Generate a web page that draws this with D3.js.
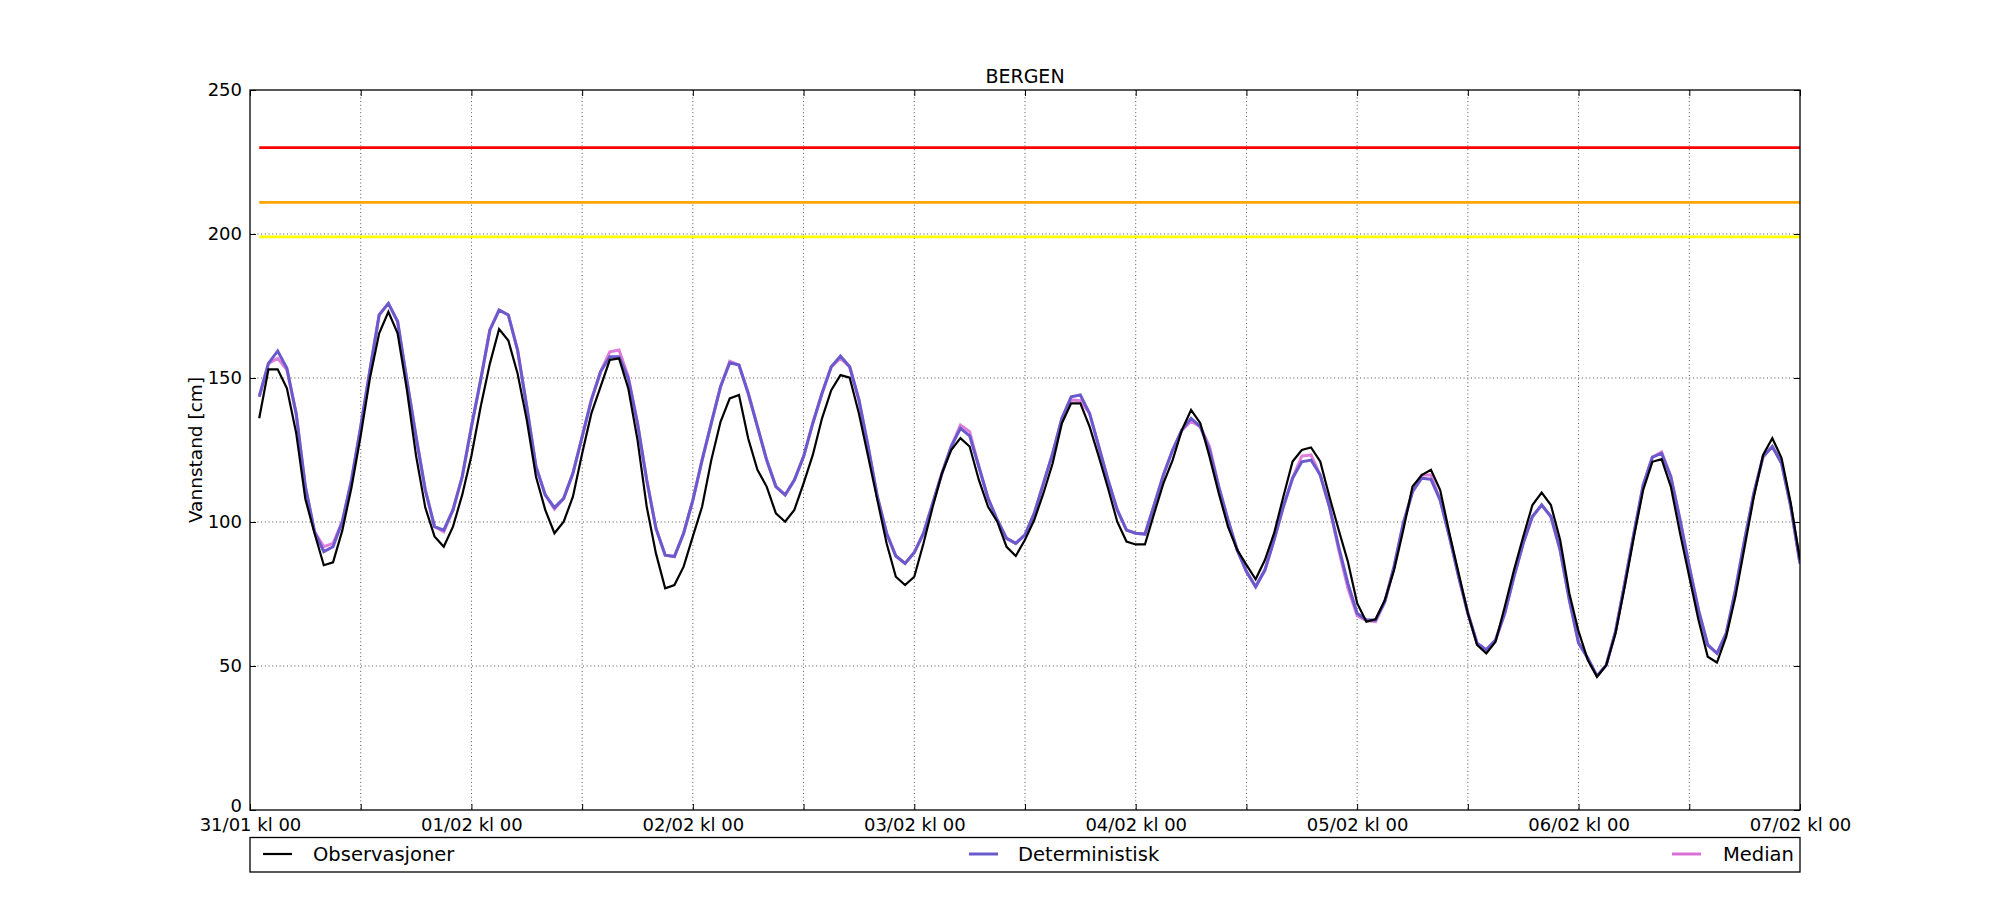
<!DOCTYPE html>
<html>
<head>
<meta charset="utf-8">
<script src="https://cdn.jsdelivr.net/npm/d3@7"></script>
<style>
  html, body { margin: 0; padding: 0; background: #ffffff; }
  svg { display: block; font-family: "DejaVu Sans", sans-serif; }
</style>
</head>
<body>
<svg id="chart" width="2000" height="900"></svg>
<script>
// ---------------- DATA ----------------
const title = "BERGEN";
const yLabel = "Vannstand [cm]";
const startTime = Date.UTC(2016, 0, 31, 0, 0); // 31/01 kl 00
const endTime = Date.UTC(2016, 1, 7, 0, 0);    // 07/02 kl 00
const firstHour = 1; // first sample at 31/01 kl 01

const seriesNames = ["Observasjoner", "Deterministisk", "Median"];

const observasjoner = [
  136, 153, 153, 146.4, 131, 108, 96, 85, 86, 97, 112, 130, 150, 165.5, 173, 165.5, 146, 123, 105, 95, 91.4, 98.4, 109.4, 123,
  140, 155, 167, 163, 151.6, 135.4, 115.7, 104.2, 96.1, 100.1, 108.8, 123.8, 137.7, 147, 156.3, 156.8, 146.4, 128.5, 105.3, 89.1, 77, 78.1, 84.5, 95,
  105.3, 121.5, 134.8, 142.9, 144.1, 129, 118.1, 112.3, 103, 100.1, 104.2, 113.4, 123.3, 136, 145.8, 151, 150.1, 137.7, 122.7, 107.6, 92.6, 81, 78.1, 81,
  92.6, 105.3, 116.9, 125, 129.1, 126.2, 114.6, 105.3, 100.1, 91.4, 88.2, 93.8, 100.7, 110, 120.4, 134.3, 141.2, 141.2, 133.1, 122.7, 111.7, 100.1, 93.2, 92.2,
  92.2, 103, 113.4, 121.5, 131.9, 138.9, 134.3, 122.7, 110, 98.4, 90.3, 85.1, 80.1, 86.8, 96.1, 108.8, 121, 125, 125.9, 121, 108.8, 97.2, 86.2, 71.8,
  65.4, 66.2, 72.9, 83.3, 97.2, 112.3, 116.3, 118.1, 111.1, 96.1, 82.2, 68.3, 57.3, 54.4, 58.4, 70.6, 83.3, 94.9, 105.9, 110.2, 105.9, 93.8, 75.2, 62,
  52.1, 46.3, 50.3, 61.3, 77.5, 94.9, 111.1, 120.9, 121.8, 112.3, 96.1, 81, 66, 53.2, 51.2, 60.2, 74.1, 91.4, 108.8, 123.3, 129.1, 122.2, 106.5, 86.8
];

const deterministisk = [
  143.5, 155.1, 159.4, 153.4, 137.7, 112.3, 96.6, 89.7, 91.4, 100.1, 114.6, 133.1, 152.8, 171.9, 175.9, 169.6, 149.3, 129.6, 111.1, 98.4, 97.2, 104.2, 115.7, 133.1,
  149.3, 166.7, 173.6, 171.9, 159.7, 140, 119.2, 109.4, 105, 108.2, 116.9, 129.6, 142.4, 152.2, 157.4, 157.4, 149.9, 134.3, 114.6, 97.8, 88.5, 88, 96.1, 107.6,
  121.5, 134.3, 147, 155.3, 154.5, 144.7, 133.1, 121.5, 112.3, 109.4, 114.6, 122.7, 134.3, 144.7, 153.9, 157.6, 153.9, 142.4, 126.2, 108.8, 96.1, 88.2, 85.6, 89.4,
  96.1, 106.5, 116.9, 126.2, 132.5, 129.9, 119.2, 108.2, 100.7, 94.3, 92.6, 95.5, 103, 113.4, 123.8, 136, 143.5, 144.1, 137.7, 126.2, 114.6, 104.2, 97.2, 96.1,
  95.8, 105.9, 116.3, 125, 131.9, 136, 133.1, 125, 112.3, 100.7, 90.3, 82.8, 77.5, 83.3, 93.8, 105.3, 115.2, 120.9, 121.5, 116.3, 105.3, 91.4, 78.7, 68.3,
  66, 66, 72.3, 84.5, 99.5, 110.5, 115.2, 114.8, 107.6, 94.9, 81, 68.3, 57.9, 55.6, 59, 68.3, 81, 92.6, 101.9, 105.9, 101.9, 90.3, 72.9, 58,
  52.7, 46.5, 50.3, 61.9, 78.7, 96.1, 112.8, 122.5, 123.8, 115.7, 100.7, 84.5, 69.4, 57.3, 54.4, 61.3, 76.4, 93.8, 110, 122.7, 126.2, 120.4, 105.3, 85.6
];

const median = [
  143.5, 155.1, 156.8, 152.8, 137.7, 112.3, 96.6, 91.4, 92.6, 100.1, 114.6, 133.1, 152.8, 171.9, 175.9, 169.6, 149.3, 129.6, 111.1, 98.4, 96.6, 104.2, 115.7, 133.1,
  149.3, 166.7, 173.6, 171.9, 159.7, 140, 119.2, 109.4, 104.5, 108.2, 116.9, 129.6, 142.4, 152.2, 159.1, 159.7, 150.5, 134.3, 114.6, 97.8, 88.5, 88, 96.1, 107.6,
  121.5, 134.3, 147, 155.8, 154.5, 144.7, 133.1, 121.5, 112.3, 109.4, 114.6, 122.7, 134.3, 144.7, 153.9, 156.8, 153.9, 142.4, 126.2, 108.8, 96.1, 88.2, 85.6, 89.4,
  96.1, 106.5, 116.9, 126.2, 133.7, 131.4, 119.2, 108.2, 100.7, 94.3, 92.6, 95.5, 103, 113.4, 123.8, 136, 142.4, 142.1, 137.7, 126.2, 114.6, 104.2, 97.2, 96.1,
  95.8, 105.9, 116.3, 125, 131.9, 135, 133.1, 126.2, 112.3, 100.7, 90.3, 82.8, 77.5, 83.3, 93.8, 105.3, 115.2, 122.9, 123.3, 116.3, 105.3, 90.3, 77, 67.5,
  65.8, 65.4, 72.3, 84.5, 99.5, 110.5, 116.3, 116.3, 107.6, 94.9, 81, 68.3, 57.9, 55.6, 59, 68.3, 81, 92.6, 101.9, 105.9, 101.9, 90.3, 72.9, 58,
  52.7, 46.5, 50.3, 61.9, 78.7, 96.1, 112.8, 122.5, 124.3, 115.7, 100.7, 84.5, 69.4, 57.3, 54.4, 61.3, 76.4, 93.8, 110, 122.7, 126.2, 120.4, 105.3, 85.6
];

const thresholdValues = [230, 211, 199];
const yTickValues = [0, 50, 100, 150, 200, 250];
const xTickLabels = ["31/01 kl 00", "01/02 kl 00", "02/02 kl 00", "03/02 kl 00", "04/02 kl 00", "05/02 kl 00", "06/02 kl 00", "07/02 kl 00"];

// ---------------- STYLE ----------------
const seriesColors = ["#000000", "#6a5acd", "#da70d6"];
const seriesWidths = [2.2, 3, 3];
const thresholdColors = ["#ff0000", "#ffa500", "#ffff00"];

const W = 2000, H = 900;
const M = { left: 250, right: 1800, top: 90, bottom: 810 };

const svg = d3.select("#chart");
svg.append("rect").attr("width", W).attr("height", H).attr("fill", "#fff");

const HOUR = 3600 * 1000;
const x = d3.scaleTime().domain([new Date(startTime), new Date(endTime)]).range([M.left, M.right]);
const y = d3.scaleLinear().domain([0, 250]).range([M.bottom, M.top]);

const timeOf = i => new Date(startTime + (firstHour + i) * HOUR);

const xTicks = d3.range(0, 15).map(k => new Date(startTime + k * 12 * HOUR));
const labelFor = d => {
  const hrs = Math.round((d - startTime) / HOUR);
  return hrs % 24 === 0 ? xTickLabels[hrs / 24] : "";
};

// Grid
const grid = svg.append("g").attr("class", "grid");
grid.selectAll("line.vx").data(xTicks.slice(1, -1)).enter().append("line")
  .attr("x1", d => x(d)).attr("x2", d => x(d))
  .attr("y1", M.top).attr("y2", M.bottom)
  .attr("stroke", "#000").attr("stroke-width", 0.8).attr("stroke-dasharray", "1,2.7").attr("opacity", 0.85);
grid.selectAll("line.hy").data(yTickValues.slice(1, -1)).enter().append("line")
  .attr("x1", M.left).attr("x2", M.right)
  .attr("y1", d => y(d)).attr("y2", d => y(d))
  .attr("stroke", "#000").attr("stroke-width", 0.8).attr("stroke-dasharray", "1,2.7").attr("opacity", 0.85);

// Clip
svg.append("clipPath").attr("id", "plotclip").append("rect")
  .attr("x", M.left).attr("y", M.top).attr("width", M.right - M.left).attr("height", M.bottom - M.top);
const plot = svg.append("g").attr("clip-path", "url(#plotclip)");

// Threshold lines
const tStart = timeOf(0), tEnd = timeOf(observasjoner.length - 1);
thresholdValues.forEach((v, i) => {
  plot.append("line")
    .attr("x1", x(tStart)).attr("x2", x(tEnd))
    .attr("y1", y(v)).attr("y2", y(v))
    .attr("stroke", thresholdColors[i]).attr("stroke-width", 2.8);
});

// Series
const line = d3.line().x((d, i) => x(timeOf(i))).y(d => y(d));
const seriesData = [observasjoner, deterministisk, median];
[2, 1, 0].forEach(s => {
  plot.append("path")
    .datum(seriesData[s])
    .attr("d", line)
    .attr("fill", "none")
    .attr("stroke", seriesColors[s])
    .attr("stroke-width", seriesWidths[s])
    .attr("stroke-linejoin", "miter")
    .attr("opacity", s === 2 ? 0.9 : 1);
});

// Axes
const fontSize = "18px";
const xAxisB = d3.axisBottom(x).tickValues(xTicks).tickFormat(labelFor).tickSize(-6).tickPadding(8);
const gx = svg.append("g").attr("transform", `translate(0,${M.bottom})`).call(xAxisB);
const xAxisT = d3.axisTop(x).tickValues(xTicks).tickFormat("").tickSize(-6);
const gxt = svg.append("g").attr("transform", `translate(0,${M.top})`).call(xAxisT);
const yAxisL = d3.axisLeft(y).tickValues(yTickValues).tickFormat(d3.format("d")).tickSize(-6).tickPadding(8);
const gy = svg.append("g").attr("transform", `translate(${M.left},0)`).call(yAxisL);
const yAxisR = d3.axisRight(y).tickValues(yTickValues).tickFormat("").tickSize(-6);
const gyr = svg.append("g").attr("transform", `translate(${M.right},0)`).call(yAxisR);

[gx, gxt, gy, gyr].forEach(g => {
  g.select(".domain").remove();
  g.selectAll(".tick line").attr("stroke", "#000").attr("stroke-width", 1);
  g.selectAll("text").attr("font-family", "DejaVu Sans").attr("font-size", fontSize).attr("fill", "#000");
});
// the "0" label sits just above the bottom axis labels, as in the reference
gy.selectAll(".tick text").filter(d => d === 0).attr("dy", "0.1em");

// Frame
svg.append("rect").attr("x", M.left).attr("y", M.top)
  .attr("width", M.right - M.left).attr("height", M.bottom - M.top)
  .attr("fill", "none").attr("stroke", "#000").attr("stroke-width", 1.3);

// Title
svg.append("text").attr("x", (M.left + M.right) / 2).attr("y", 83)
  .attr("text-anchor", "middle").attr("font-size", "19px").attr("fill", "#000").text(title);

// Y label
svg.append("text")
  .attr("transform", `translate(202,${(M.top + M.bottom) / 2}) rotate(-90)`)
  .attr("text-anchor", "middle").attr("font-size", "18.5px").attr("fill", "#000").text(yLabel);

// Legend
const leg = svg.append("g");
leg.append("rect").attr("x", M.left).attr("y", 837.5).attr("width", M.right - M.left).attr("height", 34.5)
  .attr("fill", "#fff").attr("stroke", "#000").attr("stroke-width", 1.3);
const legHandleX = [263, 969, 1672];
const legTextX = [313, 1018, 1723];
seriesNames.forEach((name, i) => {
  leg.append("line").attr("x1", legHandleX[i]).attr("x2", legHandleX[i] + 29)
    .attr("y1", 854).attr("y2", 854)
    .attr("stroke", seriesColors[i]).attr("stroke-width", seriesWidths[i]);
  leg.append("text").attr("x", legTextX[i]).attr("y", 860.5)
    .attr("font-size", "19.5px").attr("fill", "#000").text(name);
});
</script>
</body>
</html>
